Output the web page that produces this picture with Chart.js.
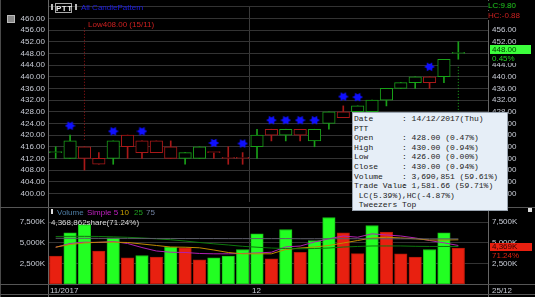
<!DOCTYPE html>
<html>
<head>
<meta charset="utf-8">
<title>PTT - All CandlePattern</title>
<script src="https://cdn.jsdelivr.net/npm/chart.js@4.4.1/dist/chart.umd.min.js"></script>
<style>
    body { margin: 0; background: #000; }
    #wrap { position: relative; width: 535px; height: 297px; overflow: hidden; background: #000;
            font-family: "Liberation Sans", Arial, sans-serif; font-size: 8px; }
    canvas { position: absolute; left: 0; }
    .t { position: absolute; white-space: nowrap; font-size: 8px; line-height: 9px; }
    .hl { position: absolute; left: 0; width: 535px; height: 1px; background: #555; }
    .vl { position: absolute; top: 0; width: 1px; height: 297px; background: #666; }
    #tip { position: absolute; left: 352px; top: 112px; width: 156px; height: 99px; background: #e6eef7;
           border: 1px solid #9aa4b0; box-sizing: border-box; padding: 1px 0 0 1px;
           font-family: "Liberation Mono", "Courier New", monospace; font-size: 8px; line-height: 9.6px; color: #222; }
    #tip div { white-space: pre; }
    #tip .k { display: inline-block; width: 48px; }
</style>
</head>
<body>
<div id="wrap">
    <canvas id="price" width="535" height="208" style="top:0"></canvas>
    <canvas id="volume" width="535" height="76" style="top:208px"></canvas>

    <div class="vl" style="left:0;background:#4a4a4a"></div>
    <div class="vl" style="left:48px"></div>
    <div class="vl" style="left:488px"></div>
    <div class="hl" style="top:207px"></div>
    <div class="hl" style="top:284px"></div>
    <div class="hl" style="top:294px"></div>

    <!-- price panel header -->
    <div style="position:absolute;left:7px;top:15px;width:6px;height:6px;background:#888;border:1px solid #bbb"></div>
    <div style="position:absolute;left:51px;top:4px;width:2px;height:6px;background:#bbb"></div>
    <div class="t" style="left:55px;top:3px;width:15px;height:8px;border:1px solid #aaa;color:#eee;text-align:center;font-weight:bold;letter-spacing:0.5px">PTT</div>
    <div style="position:absolute;left:75px;top:4px;width:2px;height:6px;background:#bbb"></div>
    <div class="t" style="left:81px;top:3px;color:#1c1ce6">All CandlePattern</div>
    <div class="t" style="left:88px;top:20px;color:#cc2020">Low408.00 (15/11)</div>

    <!-- right axis annotations -->
    <div class="t" style="left:488px;top:1px;color:#22c022;background:#000;padding-right:20px">LC:9.80</div>
    <div class="t" style="left:488px;top:11px;color:#cc2020;background:#000;padding-right:10px">HC:-0.88</div>
    <div class="t" style="left:490px;top:45px;width:41px;height:9px;background:#3cff3c;color:#004000;padding-left:2px;box-sizing:border-box">448.00</div>
    <div class="t" style="left:490px;top:54px;width:40px;color:#22d022;background:#000;padding-left:2px">0.45%</div>

    <!-- volume panel header -->
    <div style="position:absolute;left:51px;top:209px;width:2px;height:5px;background:#ddd"></div>
    <div class="t" style="left:57px;top:208px;color:#4f7fa6">Volume</div>
    <div class="t" style="left:87px;top:208px;color:#c020c0">Simple 5</div>
    <div class="t" style="left:120px;top:208px;color:#c8a000">10</div>
    <div class="t" style="left:134px;top:208px;color:#20a020">25</div>
    <div class="t" style="left:146px;top:208px;color:#7080a0">75</div>
    <div class="t" style="left:51px;top:218px;color:#d8d8d8">4,368,862share(71.24%)</div>
    <div style="position:absolute;left:528px;top:208px;width:4px;height:4px;background:#ddd"></div>

    <div class="t" style="left:490px;top:243px;width:42px;height:8px;line-height:8px;background:#e82010;color:#300000;padding-left:2px;box-sizing:border-box">4,369K</div>
    <div class="t" style="left:492px;top:251px;color:#e02010">71.24%</div>

    <!-- bottom axis -->
    <div class="t" style="left:50px;top:286px;color:#c8ccd6">11/2017</div>
    <div class="t" style="left:252px;top:286px;color:#c8ccd6">12</div>
    <div class="t" style="left:492px;top:286px;color:#c8ccd6">25/12</div>

    <!-- tooltip -->
    <div id="tip">
        <div><span class="k">Date</span>: 14/12/2017(Thu)</div>
        <div>PTT</div>
        <div><span class="k">Open</span>: 428.00 (0.47%)</div>
        <div><span class="k">High</span>: 430.00 (0.94%)</div>
        <div><span class="k">Low</span>: 426.00 (0.00%)</div>
        <div><span class="k">Close</span>: 430.00 (0.94%)</div>
        <div><span class="k">Volume</span>: 3,690,851 (59.61%)</div>
        <div><span class="k">Trade Value</span>: 1,581.66 (59.71%)</div>
        <div> LC(5.39%),HC(-4.87%)</div>
        <div> Tweezers Top</div>
    </div>
</div>

<script>
    const dates = ['13/11', '14/11', '15/11', '16/11', '17/11', '20/11', '21/11', '22/11', '23/11', '24/11',
        '27/11', '28/11', '29/11', '30/11', '01/12', '04/12', '06/12', '07/12', '08/12', '12/12',
        '13/12', '14/12', '15/12', '18/12', '19/12', '20/12', '21/12', '22/12', '25/12'];

    const openPrices = [414, 412, 416, 412, 412, 420, 418, 418, 416, 412, 412, 414, 412, 412, 416,
        422, 420, 422, 418, 424, 428, 428, 428, 432, 436, 438, 440, 440, 448];
    const highPrices = [416, 420, 416, 414, 418, 420, 418, 418, 418, 414, 416, 414, 416, 414, 422,
        422, 422, 422, 422, 428, 430, 430, 432, 436, 438, 440, 440, 446, 452];
    const lowPrices = [412, 412, 408, 410, 410, 412, 412, 414, 412, 410, 412, 412, 410, 410, 412,
        418, 418, 418, 416, 422, 426, 426, 428, 430, 436, 436, 436, 438, 446];
    const closePrices = [414, 418, 412, 410, 418, 416, 414, 414, 412, 414, 416, 414, 412, 412, 420,
        420, 422, 420, 422, 428, 426, 430, 432, 436, 438, 440, 438, 446, 448];
    const candleUp = [1, 1, 0, 0, 1, 0, 0, 0, 0, 1, 1, 0, 0, 0, 1, 0, 1, 0, 1, 1, 0, 1, 1, 1, 1, 1, 0, 1, 1];

    // candle pattern markers (blue stars)
    const patternIdx = [1, 4, 6, 11, 13, 15, 16, 17, 18, 20, 21, 26];
    const patternY = [423.2, 421.3, 421.3, 417.3, 417.1, 425.1, 425.1, 425.1, 425.1, 433.2, 433.0, 443.4];

    // volume in thousand shares
    const volumes = [3370, 6210, 7210, 3980, 5600, 3180, 3450, 3250, 4460, 4390, 2930, 3180, 3370, 4180, 6080,
        3050, 6610, 3850, 5270, 8060, 6210, 3691, 7090, 6280, 3660, 3250, 4180, 6210, 4369];
    const volumeUp = [0, 1, 1, 0, 1, 0, 1, 0, 1, 0, 0, 1, 1, 1, 1, 0, 1, 0, 1, 1, 0, 0, 1, 0, 0, 0, 1, 1, 0];
    const sma5 = [4460, 4910, 5070, 5030, 5150, 4910, 4420, 4000, 3850, 3820, 3700, 3660, 3660, 3700, 3760,
        3850, 4500, 4600, 5090, 5480, 5820, 5670, 6080, 5940, 5820, 5580, 5270, 4990, 4670];
    const sma10 = [4460, 4790, 4970, 5070, 5070, 5030, 4850, 4670, 4480, 4460, 4390, 4120, 3820, 3660, 3660,
        3660, 4180, 4360, 4480, 4670, 4970, 5270, 5580, 5670, 5580, 5480, 5330, 5330, 5360];
    const sma25 = [5760, 5780, 5780, 5760, 5720, 5660, 5580, 5480, 5360, 5210, 5030, 4870, 4730, 4570, 4460,
        4360, 4300, 4270, 4300, 4360, 4480, 4550, 4610, 4610, 4610, 4570, 4550, 4550, 4550];
    const sma75 = [5540, 5540, 5540, 5530, 5530, 5530, 5520, 5520, 5520, 5510, 5510, 5510, 5500, 5500, 5500,
        5500, 5500, 5490, 5490, 5490, 5490, 5490, 5480, 5480, 5480, 5480, 5470, 5470, 5470];

    const priceTicks = [400, 404, 408, 412, 416, 420, 424, 428, 432, 436, 440, 444, 448, 452, 456, 460, 464];
    const volumeTicks = [2500, 5000, 7500];

    const lowMarker = [418.4, 457.4];   // red dotted line over 15/11
    const cursorLine = [443.4, 397];    // green dotted line on the last bar

    const xMin = -0.5355;
    const xMax = 30.064;
    const green = '#18a018';
    const red = '#a81818';
    const gridColor = '#333333';

    Chart.defaults.font.family = '"Liberation Sans", Arial, sans-serif';
    Chart.defaults.font.size = 8;
    Chart.defaults.color = '#c8ccd6';

    const idx = dates.map((d, i) => i);
    const monthSplit = dates.findIndex(d => d.endsWith('/12')) - 0.5;

    function starImage(size, color) {
        const c = document.createElement('canvas');
        c.width = size;
        c.height = Math.round(size * 0.9);
        const g = c.getContext('2d');
        const cx = c.width / 2, cy = c.height / 2, r = size / 2;
        g.fillStyle = color;
        [0, Math.PI].forEach(rot => {
            g.beginPath();
            for (let k = 0; k < 3; k++) {
                const a = rot + k * 2 * Math.PI / 3;
                g.lineTo(cx + r * Math.cos(a), cy + r * Math.sin(a) * 0.9);
            }
            g.closePath();
            g.fill();
        });
        return c;
    }

    function xAxis() {
        return {
            type: 'linear', min: xMin, max: xMax, offset: false,
            ticks: {display: false},
            border: {display: false},
            grid: {color: '#3a3a3a', drawTicks: false, offset: false},
            afterBuildTicks: s => { s.ticks = [{value: monthSplit}]; },
            afterFit: s => { s.height = 0; s.paddingLeft = 0; s.paddingRight = 0; }
        };
    }

    function sideAxis(position, width, min, max, ticks, label, showGrid) {
        return {
            type: 'linear', position: position, min: min, max: max,
            border: {display: false},
            grid: {display: showGrid, color: gridColor, drawTicks: false},
            ticks: {padding: position === 'left' ? 3 : 4, autoSkip: false, callback: label},
            afterBuildTicks: s => { s.ticks = ticks.map(v => ({value: v})); },
            afterFit: s => { s.width = width; s.paddingTop = 0; s.paddingBottom = 0; }
        };
    }

    const candleColor = candleUp.map(u => u ? green : red);

    new Chart(document.getElementById('price'), {
        type: 'bar',
        data: {
            datasets: [
                {
                    type: 'bar', label: 'wick', order: 3, grouped: false,
                    data: idx.map(i => ({x: i, y: [lowPrices[i], highPrices[i]]})),
                    backgroundColor: candleColor, barThickness: 1
                },
                {
                    type: 'bar', label: 'body', order: 2, grouped: false,
                    data: idx.map(i => ({x: i, y: [openPrices[i], closePrices[i]]})),
                    backgroundColor: '#000', borderColor: candleColor, borderWidth: 1,
                    borderSkipped: false, barThickness: 12.5, minBarLength: 1
                },
                {
                    type: 'line', label: 'pattern', order: 1, showLine: false,
                    data: patternIdx.map((i, k) => ({x: i, y: patternY[k]})),
                    pointStyle: starImage(11, '#1010ff'), pointRadius: 5
                },
                {
                    type: 'line', label: 'low', order: 4,
                    data: lowMarker.map(v => ({x: 2, y: v})),
                    borderColor: '#a01515', borderWidth: 1, borderDash: [1, 2], pointRadius: 0
                },
                {
                    type: 'line', label: 'cursor', order: 4,
                    data: cursorLine.map(v => ({x: 28, y: v})),
                    borderColor: '#20b020', borderWidth: 1, borderDash: [1, 2], pointRadius: 0
                }
            ]
        },
        options: {
            responsive: false,
            animation: false,
            layout: {padding: {top: 1, bottom: 1, left: 0, right: 0}},
            plugins: {legend: {display: false}, tooltip: {enabled: false}},
            scales: {
                x: xAxis(),
                y: sideAxis('left', 48, 397.065, 464.24, priceTicks,
                    v => v === 464 ? '' : v.toFixed(2), true),
                y2: sideAxis('right', 47, 397.065, 464.24, priceTicks,
                    v => (v === 464 || v === 460 || v === 448) ? '' : v.toFixed(2), false)
            }
        }
    });

    const volLabel = v => v.toLocaleString('en-US') + 'K';
    const lineSet = (label, values, color) => ({
        type: 'line', label: label, order: 1,
        data: idx.map(i => ({x: i, y: values[i]})),
        borderColor: color, borderWidth: 1, pointRadius: 0, tension: 0
    });

    new Chart(document.getElementById('volume'), {
        type: 'bar',
        data: {
            datasets: [
                {
                    type: 'bar', label: 'Volume', order: 2, grouped: false,
                    data: idx.map(i => ({x: i, y: volumes[i]})),
                    backgroundColor: volumeUp.map(u => u ? '#22ff22' : '#e82010'),
                    borderColor: volumeUp.map(u => u ? '#18c018' : '#b01808'),
                    borderWidth: 1, borderSkipped: false, barThickness: 12.5
                },
                lineSet('75', sma75, '#5c5c68'),
                lineSet('25', sma25, '#0c780c'),
                lineSet('10', sma10, '#c08a00'),
                lineSet('Simple 5', sma5, '#b020b0')
            ]
        },
        options: {
            responsive: false,
            animation: false,
            layout: {padding: 0},
            plugins: {legend: {display: false}, tooltip: {enabled: false}},
            scales: {
                x: xAxis(),
                y: sideAxis('left', 48, 0, 9212, volumeTicks, volLabel, true),
                y2: sideAxis('right', 47, 0, 9212, volumeTicks, volLabel, false)
            }
        }
    });
</script>
</body>
</html>
